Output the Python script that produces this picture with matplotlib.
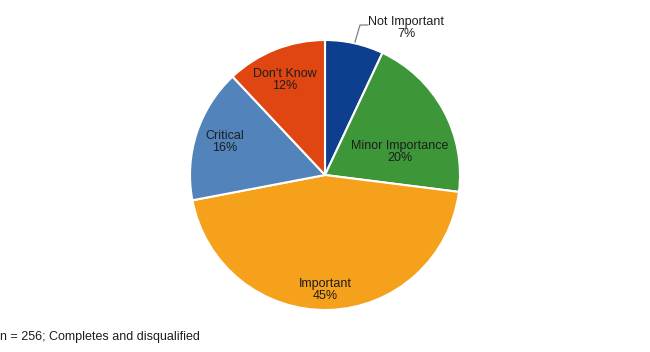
import matplotlib
matplotlib.use("Agg")
import matplotlib.pyplot as plt
import numpy as np

categories = ["Not Important", "Minor Importance", "Important", "Critical", "Don't Know"]
values = [7, 20, 45, 16, 12]
colors = ["#0E3F8E", "#3D9637", "#F5A11C", "#5283BA", "#DF4611"]
footnote = "n = 256; Completes and disqualified"

plt.rcParams['font.family'] = ['Liberation Sans', 'DejaVu Sans']

W, H = 650, 352
fig = plt.figure(figsize=(6.5, 3.52), dpi=100)
ax = fig.add_axes([0, 0, 1, 1])

cx, cy, r = 325, H - 175, 135
wedges, _ = ax.pie(values, colors=colors, startangle=90, counterclock=False,
                   center=(cx, cy), radius=r, frame=True,
                   wedgeprops=dict(edgecolor='white', linewidth=1.5))
ax.set_xlim(0, W)
ax.set_ylim(0, H)
ax.set_aspect('equal')
ax.axis('off')

# label positions (pixel coords, y from top)
label_pos = {
    "Not Important": (406, 28),
    "Minor Importance": (400, 152),
    "Important": (325, 290),
    "Critical": (225, 142),
    "Don't Know": (285, 80),
}
for cat, v in zip(categories, values):
    x, y = label_pos[cat]
    ax.text(x, H - y, f"{cat}\n{v}%", ha='center', va='center', fontsize=9,
            color='#1e1e1e', linespacing=1.1)

# leader line for Not Important
ax.plot([355, 360, 368], [H - 42, H - 25, H - 25], color='#808080', lw=0.9)

ax.text(0.5, H - 337, footnote, ha='left', va='center', fontsize=9, color='#1e1e1e')

fig.savefig("out.png", dpi=100)
